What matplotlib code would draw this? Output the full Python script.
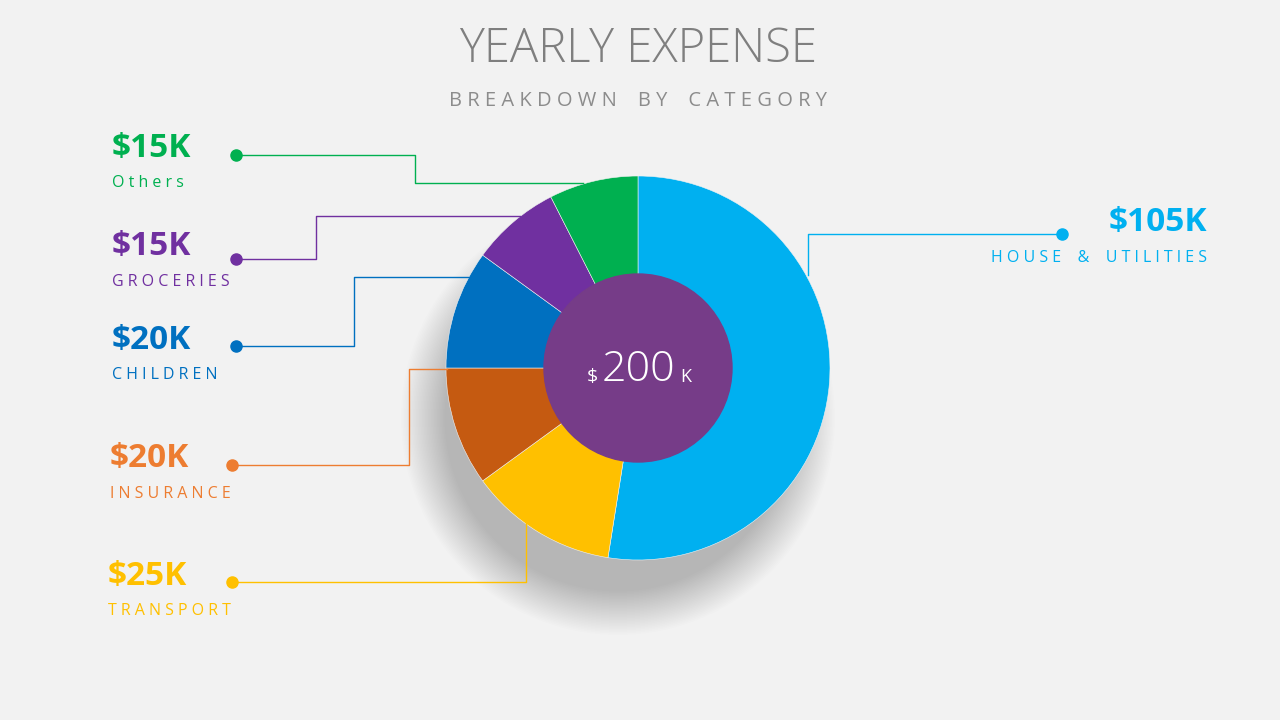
import matplotlib
matplotlib.use("Agg")
import matplotlib.pyplot as plt
from matplotlib.patches import Circle

# data
categories = ["HOUSE & UTILITIES", "TRANSPORT", "INSURANCE", "CHILDREN", "GROCERIES", "Others"]
values = [105, 25, 20, 20, 15, 15]
value_labels = ["$105K", "$25K", "$20K", "$20K", "$15K", "$15K"]
wedge_colors = ["#00B0F0", "#FFC000", "#C55A11", "#0070C0", "#7030A0", "#00B050"]
label_colors = ["#00B0F0", "#FFC000", "#ED7D31", "#0070C0", "#7030A0", "#00B050"]
total_label = "200"

BG = "#F2F2F2"
W, H = 1280, 720
CX, CY, R = 638, 368, 192


def Y(y):
    return H - y


def spaced(s):
    return " ".join(list(s)).replace("   ", "    ")


fig = plt.figure(figsize=(12.8, 7.2), dpi=100, facecolor=BG)
ax = fig.add_axes([0, 0, 1, 1])
ax.set_xlim(0, W)
ax.set_ylim(0, H)
ax.set_aspect("equal")
ax.axis("off")
ax.set_facecolor(BG)

# soft shadow
for i in range(30):
    ax.add_patch(Circle((CX - 20, Y(CY + 50)), R + 25 - i * 1.5, color="#000000",
                        alpha=0.008, lw=0, zorder=1))

ax.pie(values, colors=wedge_colors, startangle=90, counterclock=False,
       center=(CX, Y(CY)), radius=R, wedgeprops=dict(linewidth=0.4, edgecolor="#F2F2F2"))
ax.set_xlim(0, W)
ax.set_ylim(0, H)
ax.add_patch(Circle((CX, Y(CY)), 94, color="#763C88", zorder=5))
ax.text(CX - 46, Y(377), "$", color="white", fontsize=14, ha="center", va="center", zorder=6, family="Open Sans")
ax.text(CX, Y(370), total_label, color="white", fontsize=31, ha="center", va="center", zorder=6, family="Open Sans", fontweight="light")
ax.text(CX + 48, Y(377), "K", color="white", fontsize=13, ha="center", va="center", zorder=6, family="Open Sans")

# title
ax.text(638, Y(50), "YEARLY EXPENSE", fontsize=34, color="#7F7F7F", ha="center", va="center",
        family="Open Sans", fontweight="light")
ax.text(638, Y(101), spaced("BREAKDOWN BY CATEGORY"), fontsize=14.5, color="#8C8C8C", ha="center",
        va="center", family="Open Sans")

# connectors (pixel paths) and label anchors
paths = [
    [(1062, 234), (808, 234), (808, 275)],
    [(232, 582), (526, 582), (526, 520)],
    [(232, 465), (409, 465), (409, 369), (447, 369)],
    [(236, 346), (354, 346), (354, 277), (470, 277)],
    [(236, 259), (316, 259), (316, 216), (520, 216)],
    [(236, 155), (415, 155), (415, 183), (583, 183)],
]
label_pos = [(1207, 223, 258, "right"), (108, 576, 611, "left"), (110, 459, 494, "left"),
             (112, 340, 375, "left"), (112, 246, 282, "left"), (112, 148, 183, "left")]

for i, cat in enumerate(categories):
    xs = [p[0] for p in paths[i]]
    ys = [Y(p[1]) for p in paths[i]]
    ax.plot(xs, ys, color=label_colors[i], lw=1, zorder=3)
    ax.plot(xs[0], ys[0], "o", color=label_colors[i], ms=8, zorder=4)
    x, yv, yc, ha = label_pos[i]
    ax.text(x, Y(yv), value_labels[i], color=label_colors[i], fontsize=24, fontweight="bold",
            ha=ha, va="center", family="Open Sans")
    ax.text(x, Y(yc), spaced(cat), color=label_colors[i], fontsize=11.5, ha=ha, va="center",
            family="Open Sans")

fig.savefig("out.png", dpi=100, facecolor=BG)
